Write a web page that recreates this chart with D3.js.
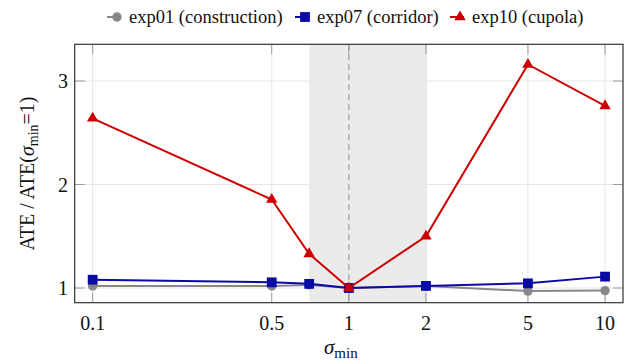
<!DOCTYPE html>
<html><head><meta charset="utf-8">
<script src="https://cdn.jsdelivr.net/npm/d3@7"></script>
<style>body{margin:0;background:#fff}svg{display:block}</style>
</head><body><svg id="c" width="628" height="360" font-family="'Liberation Serif', 'Times New Roman', serif"></svg>
<script>
const sigma = [0.1, 0.5, 0.7, 1, 2, 5, 10];
const exp01 = [1.02, 1.02, 1.03, 1.0, 1.02, 0.97, 0.975];
const exp07 = [1.08, 1.055, 1.04, 1.0, 1.02, 1.045, 1.11];
const exp10 = [2.64, 1.855, 1.33, 1.0, 1.50, 3.16, 2.76];
const xTicks = [0.1, 0.5, 1, 2, 5, 10];
const xTickLabels = ["0.1", "0.5", "1", "2", "5", "10"];
const yTicks = [1, 2, 3];
const band = [0.7, 2];
const refX = 1;
const seriesNames = ["exp01 (construction)", "exp07 (corridor)", "exp10 (cupola)"];

const FONT = "'Liberation Serif', 'Times New Roman', serif";
const L = 74.7, R = 623, T = 44.3, B = 302.7;
const x = d3.scaleLog().domain([0.0851, 11.75]).range([L, R]);
const y = d3.scaleLinear().domain([0.858, 3.355]).range([B, T]);
const svg = d3.select("#c");

// grid
svg.append("g").selectAll("line").data(xTicks).join("line")
  .attr("x1", d => x(d)).attr("x2", d => x(d)).attr("y1", T).attr("y2", B)
  .attr("stroke", "#e6e6e6").attr("stroke-width", 1);
svg.append("g").selectAll("line").data(yTicks).join("line")
  .attr("x1", L).attr("x2", R).attr("y1", d => y(d)).attr("y2", d => y(d))
  .attr("stroke", "#e6e6e6").attr("stroke-width", 1);

// band
svg.append("rect").attr("x", x(band[0])).attr("y", T).attr("width", x(band[1]) - x(band[0])).attr("height", B - T)
  .attr("fill", "#ebebeb");
svg.append("line").attr("x1", x(band[1])).attr("x2", x(band[1])).attr("y1", T).attr("y2", B)
  .attr("stroke", "#e0e0e0");
// dashed reference
svg.append("line").attr("x1", x(refX)).attr("x2", x(refX)).attr("y1", T).attr("y2", B)
  .attr("stroke", "#a8a8a8").attr("stroke-width", 1.4).attr("stroke-dasharray", "6,4");

// ticks (inside, all sides)
const tk = svg.append("g").attr("stroke", "#9a9a9a").attr("stroke-width", 1);
xTicks.forEach(d => {
  tk.append("line").attr("x1", x(d)).attr("x2", x(d)).attr("y1", B).attr("y2", B - 10);
  tk.append("line").attr("x1", x(d)).attr("x2", x(d)).attr("y1", T).attr("y2", T + 10);
});
yTicks.forEach(d => {
  tk.append("line").attr("x1", L).attr("x2", L + 10).attr("y1", y(d)).attr("y2", y(d));
  tk.append("line").attr("x1", R).attr("x2", R - 10).attr("y1", y(d)).attr("y2", y(d));
});

// frame
svg.append("rect").attr("x", L).attr("y", T).attr("width", R - L).attr("height", B - T)
  .attr("fill", "none").attr("stroke", "#333").attr("stroke-width", 1.2);

// tick labels
svg.append("g").selectAll("text").data(xTicks).join("text")
  .attr("x", d => x(d)).attr("y", 330).attr("text-anchor", "middle").attr("font-size", 20)
  .attr("font-family", FONT).attr("fill", "#111")
  .text((d, i) => xTickLabels[i]);
svg.append("g").selectAll("text").data(yTicks).join("text")
  .attr("x", 68).attr("y", d => y(d) + 7).attr("text-anchor", "end").attr("font-size", 20)
  .attr("font-family", FONT).attr("fill", "#111")
  .text(d => d);

// series
const colors = ["#888888", "#0a0aa6", "#cc0000"];
const datas = [exp01, exp07, exp10];
const line = d3.line().x(d => x(d[0])).y(d => y(d[1]));
function marker(g, k, cx, cy) {
  if (k === 0) g.append("circle").attr("cx", cx).attr("cy", cy).attr("r", 4.7).attr("fill", colors[0]);
  else if (k === 1) g.append("rect").attr("x", cx - 4.9).attr("y", cy - 4.9).attr("width", 9.8).attr("height", 9.8).attr("fill", colors[1]);
  else {
    const r = 6.6;
    g.append("path").attr("d", `M${cx},${cy - r}L${cx + r * 0.866},${cy + r / 2}L${cx - r * 0.866},${cy + r / 2}Z`).attr("fill", colors[2]);
  }
}
datas.forEach((vals, k) => {
  const pts = sigma.map((s, i) => [s, vals[i]]);
  const g = svg.append("g");
  g.append("path").attr("d", line(pts)).attr("fill", "none").attr("stroke", colors[k]).attr("stroke-width", 2);
  pts.forEach(p => marker(g, k, x(p[0]), y(p[1])));
});

// legend
const legX = [107, 295, 450];
const legY = 17;
seriesNames.forEach((n, k) => {
  const g = svg.append("g");
  g.append("line").attr("x1", legX[k]).attr("x2", legX[k] + 14).attr("y1", legY).attr("y2", legY)
    .attr("stroke", colors[k]).attr("stroke-width", 2);
  marker(g, k, legX[k] + 10, legY);
  g.append("text").attr("x", legX[k] + 22).attr("y", legY + 6).attr("font-size", 18.5)
    .attr("font-family", FONT).attr("fill", "#111").text(n);
});

// axis labels
const xl = svg.append("text").attr("x", (L + R) / 2 - 8).attr("y", 354).attr("text-anchor", "middle")
  .attr("font-size", 21).attr("font-family", FONT).attr("fill", "#111");
xl.append("tspan").attr("font-style", "italic").text("σ");
xl.append("tspan").attr("font-size", 15).attr("dy", 4).text("min");

const yl = svg.append("text").attr("transform", `translate(34,${(T + B) / 2}) rotate(-90)`).attr("text-anchor", "middle")
  .attr("font-size", 20).attr("font-family", FONT).attr("fill", "#111");
yl.append("tspan").text("ATE / ATE(");
yl.append("tspan").attr("font-style", "italic").text("σ");
yl.append("tspan").attr("font-size", 14).attr("dy", 4).text("min");
yl.append("tspan").attr("dy", -4).text("=1)");
</script></body></html>
